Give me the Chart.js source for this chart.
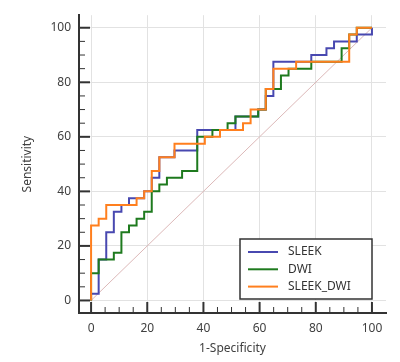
<!DOCTYPE html>
<html>
<head>
<meta charset="utf-8">
<script src="https://cdn.jsdelivr.net/npm/chart.js@4.4.1/dist/chart.umd.min.js"></script>
<style>
  html, body { margin: 0; padding: 0; background: #fff; }
  #wrap { width: 400px; height: 362px; position: relative; }
</style>
</head>
<body>
<div id="wrap"><canvas id="rocChart"></canvas></div>
<script>
// ROC curves, values in percent (1-Specificity, Sensitivity), corner points of the steps
const fprSleek = [0, 2.7, 5.4, 8.1, 10.8, 13.5, 18.9, 21.6, 24.3, 29.7, 37.8, 51.4, 59.5, 62.2, 64.9, 78.4, 83.8, 86.5, 94.6, 100, 100];
const tprSleek = [0, 2.5, 15, 25, 32.5, 35, 37.5, 40, 45, 52.5, 55, 62.5, 67.5, 70, 75, 87.5, 90, 92.5, 95, 97.5, 100];

const fprDwi = [0, 2.7, 8.1, 10.8, 13.5, 16.2, 18.9, 21.6, 24.3, 27.0, 32.4, 37.8, 43.2, 48.6, 51.4, 59.5, 62.2, 67.6, 70.3, 78.4, 89.2, 91.9, 94.6, 100];
const tprDwi = [0, 10, 15, 17.5, 25, 27.5, 30, 32.5, 40, 42.5, 45, 47.5, 60, 62.5, 65, 67.5, 70, 77.5, 82.5, 85, 87.5, 92.5, 97.5, 100];

const fprSleekDwi = [0, 2.7, 5.4, 16.2, 18.9, 21.6, 24.3, 29.7, 40.5, 45.9, 54.1, 56.8, 62.2, 64.9, 73.0, 91.9, 94.6, 100];
const tprSleekDwi = [0, 27.5, 30, 35, 37.5, 40, 47.5, 52.5, 57.5, 60, 62.5, 65, 70, 77.5, 85, 87.5, 97.5, 100];

const diagX = [0, 100];
const diagY = [0, 100];

const seriesNames = ['SLEEK', 'DWI', 'SLEEK_DWI'];
const majorTicks = [0, 20, 40, 60, 80, 100];
const minorTicks = [5, 10, 15, 25, 30, 35, 45, 50, 55, 65, 70, 75, 85, 90, 95];

const toPoints = (xs, ys) => xs.map((x, i) => ({ x, y: ys[i] }));

// inward tick marks, drawn with the chart's own scales
const tickMarks = {
  id: 'tickMarks',
  afterDraw(chart) {
    const { ctx, chartArea, scales } = chart;
    const xs = scales.x, ys = scales.y;
    ctx.save();
    ctx.strokeStyle = '#333';
    const mark = (v, len, w) => {
      ctx.lineWidth = w;
      const px = xs.getPixelForValue(v);
      ctx.beginPath();
      ctx.moveTo(px, chartArea.bottom);
      ctx.lineTo(px, chartArea.bottom - len);
      ctx.stroke();
      const py = ys.getPixelForValue(v);
      ctx.beginPath();
      ctx.moveTo(chartArea.left, py);
      ctx.lineTo(chartArea.left + len, py);
      ctx.stroke();
    };
    majorTicks.forEach(v => mark(v, 11, 2));
    minorTicks.forEach(v => mark(v, 6, 1));
    ctx.restore();
  }
};

// boxed legend inside the plot area
const boxLegend = {
  id: 'boxLegend',
  afterDraw(chart) {
    const { ctx, chartArea } = chart;
    const w = 132, h = 60;
    const x0 = chartArea.right - 14 - w;
    const y0 = chartArea.bottom - 14 - h;
    ctx.save();
    ctx.fillStyle = '#fff';
    ctx.fillRect(x0, y0, w, h);
    ctx.strokeStyle = '#333';
    ctx.lineWidth = 1.5;
    ctx.strokeRect(x0, y0, w, h);
    ctx.font = '12px "Noto Sans"';
    ctx.textBaseline = 'middle';
    seriesNames.forEach((name, i) => {
      const ds = chart.data.datasets[i];
      const y = y0 + 13 + i * 17.3;
      ctx.strokeStyle = ds.borderColor;
      ctx.lineWidth = 2;
      ctx.beginPath();
      ctx.moveTo(x0 + 8, y);
      ctx.lineTo(x0 + 38, y);
      ctx.stroke();
      ctx.fillStyle = '#333';
      ctx.fillText(name, x0 + 48, y);
    });
    ctx.restore();
  }
};

new Chart(document.getElementById('rocChart'), {
  type: 'line',
  data: {
    datasets: [
      {
        label: seriesNames[0],
        data: toPoints(fprSleek, tprSleek),
        borderColor: '#4848b0',
        borderWidth: 2,
        pointRadius: 0,
        stepped: 'after',
        order: 2
      },
      {
        label: seriesNames[1],
        data: toPoints(fprDwi, tprDwi),
        borderColor: '#1e7a1e',
        borderWidth: 2,
        pointRadius: 0,
        stepped: 'after',
        order: 1
      },
      {
        label: seriesNames[2],
        data: toPoints(fprSleekDwi, tprSleekDwi),
        borderColor: '#ff7f1e',
        borderWidth: 2,
        pointRadius: 0,
        stepped: 'after',
        order: 0
      },
      {
        label: 'reference',
        data: toPoints(diagX, diagY),
        borderColor: '#dcb8b8',
        borderWidth: 1,
        pointRadius: 0,
        order: 3
      }
    ]
  },
  options: {
    responsive: true,
    maintainAspectRatio: false,
    animation: false,
    layout: { padding: { top: 6, right: 14, left: 0, bottom: 0 } },
    plugins: {
      legend: { display: false },
      tooltip: { enabled: false }
    },
    scales: {
      x: {
        type: 'linear',
        min: -4.3,
        max: 105,
        afterBuildTicks: s => { s.ticks = majorTicks.map(v => ({ value: v })); },
        afterFit: s => { s.height = 49; },
        grid: { color: '#e2e2e2', drawTicks: false },
        border: { color: '#333', width: 2 },
        ticks: { padding: 8, color: '#404040', font: { family: 'Noto Sans', size: 12 } },
        title: {
          display: true,
          text: '1-Specificity',
          color: '#404040',
          font: { family: 'Noto Sans', size: 12 },
          padding: { top: 0, bottom: 6 }
        }
      },
      y: {
        type: 'linear',
        min: -4.6,
        max: 104.6,
        afterBuildTicks: s => { s.ticks = majorTicks.map(v => ({ value: v })); },
        afterFit: s => { s.width = 79; },
        grid: { color: '#e2e2e2', drawTicks: false },
        border: { color: '#333', width: 2 },
        ticks: { padding: 8, color: '#404040', font: { family: 'Noto Sans', size: 12 } },
        title: {
          display: true,
          text: 'Sensitivity',
          color: '#404040',
          font: { family: 'Noto Sans', size: 12 },
          padding: { top: 20, bottom: 0 }
        }
      }
    }
  },
  plugins: [tickMarks, boxLegend]
});
</script>
</body>
</html>
